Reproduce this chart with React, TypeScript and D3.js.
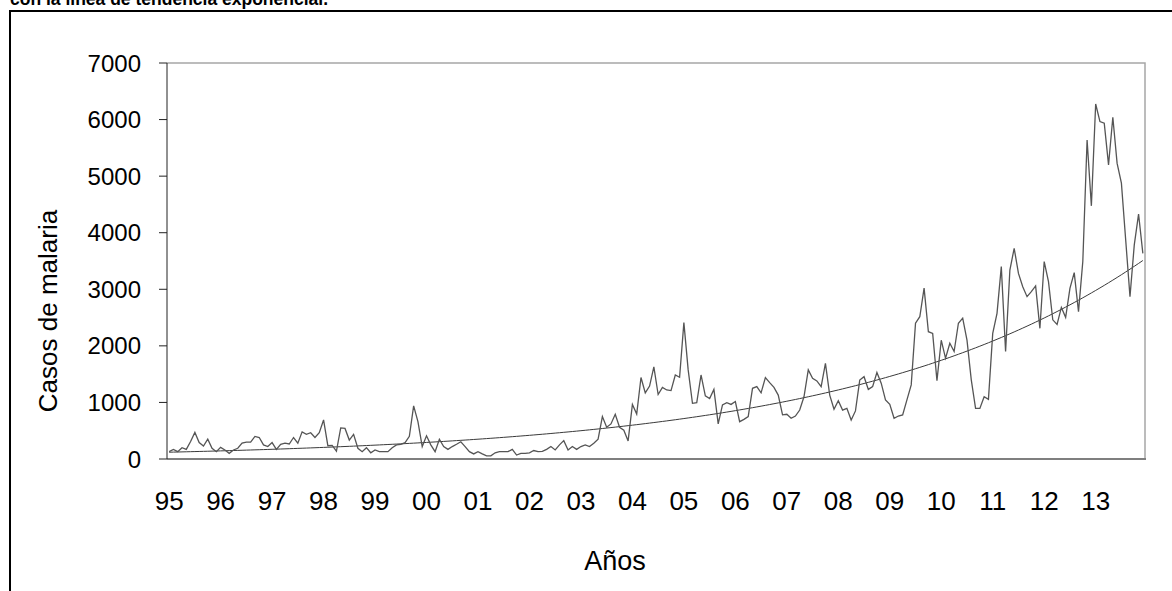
import React from "react"
import * as d3 from "d3"

// casos mensuales de malaria, ene-dic de cada año
const c1995 = [130, 170, 130, 200, 170, 310, 470, 290, 230, 350, 190, 130]
const c1996 = [205, 160, 100, 160, 190, 280, 300, 300, 400, 380, 250, 220]
const c1997 = [290, 170, 260, 280, 265, 380, 280, 480, 435, 465, 380, 465]
const c1998 = [690, 235, 240, 140, 550, 540, 335, 435, 190, 130, 200, 110]
const c1999 = [160, 130, 130, 130, 200, 250, 260, 290, 400, 940, 660, 220]
const c2000 = [410, 250, 130, 350, 220, 170, 220, 260, 305, 220, 130, 90]
const c2001 = [130, 90, 55, 55, 110, 130, 130, 130, 170, 70, 100, 100]
const c2002 = [110, 150, 130, 135, 170, 220, 160, 250, 325, 160, 220, 170]
const c2003 = [220, 250, 220, 280, 350, 750, 560, 620, 790, 560, 510, 320]
const c2004 = [965, 795, 1440, 1170, 1290, 1630, 1140, 1265, 1220, 1210, 1485, 1445]
const c2005 = [2410, 1575, 985, 995, 1485, 1115, 1070, 1230, 620, 955, 995, 965]
const c2006 = [1015, 660, 700, 750, 1250, 1280, 1170, 1440, 1350, 1265, 1130, 780]
const c2007 = [790, 720, 760, 865, 1100, 1575, 1425, 1380, 1280, 1690, 1130, 880]
const c2008 = [1030, 865, 895, 690, 850, 1395, 1455, 1230, 1280, 1530, 1340, 1045]
const c2009 = [965, 720, 760, 780, 1045, 1310, 2400, 2515, 3020, 2250, 2220, 1385]
const c2010 = [2100, 1780, 2045, 1900, 2400, 2490, 2100, 1400, 895, 895, 1100, 1055]
const c2011 = [2220, 2575, 3400, 1900, 3340, 3725, 3280, 3045, 2870, 2960, 3060, 2310]
const c2012 = [3490, 3135, 2460, 2380, 2680, 2505, 3015, 3295, 2605, 3490, 5640, 4475]
const c2013 = [6275, 5965, 5935, 5200, 6040, 5225, 4875, 3870, 2870, 3785, 4330, 3635]

const yearLabels = ["95", "96", "97", "98", "99", "00", "01", "02", "03", "04",
  "05", "06", "07", "08", "09", "10", "11", "12", "13"]
const yTicks = [0, 1000, 2000, 3000, 4000, 5000, 6000, 7000]

const casos = [c1995, c1996, c1997, c1998, c1999, c2000, c2001, c2002, c2003, c2004,
  c2005, c2006, c2007, c2008, c2009, c2010, c2011, c2012, c2013].flat()

const W = 1172
const H = 591
const PLOT = { left: 167, right: 1145, top: 63, bottom: 459 }
const FONT = "'Liberation Sans', Arial, sans-serif"

// tendencia exponencial (mínimos cuadrados sobre ln y), como en Excel
function expTrend(vals: number[]) {
  const xs = vals.map((_, i) => i + 1)
  const ls = vals.map(v => Math.log(v))
  const mx = d3.mean(xs)!
  const ml = d3.mean(ls)!
  const b = d3.sum(xs, (v, i) => (v - mx) * (ls[i] - ml)) / d3.sum(xs, v => (v - mx) ** 2)
  const a = Math.exp(ml - b * mx)
  return (i: number) => a * Math.exp(b * (i + 1))
}

export default function App() {
  const x = d3.scaleBand<number>()
    .domain(d3.range(casos.length))
    .range([PLOT.left, PLOT.right])
  const xc = (i: number) => x(i)! + x.bandwidth() / 2
  const y = d3.scaleLinear().domain([0, 7000]).range([PLOT.bottom, PLOT.top])

  const trend = expTrend(casos)
  const line = d3.line<number>().x((_, i) => xc(i)).y(d => y(d))
  const trendLine = d3.line<number>().x(i => xc(i)).y(i => y(trend(i)))

  return (
    <svg width={W} height={H} style={{ position: "absolute", left: 0, top: 0, background: "#fff" }}
      fontFamily={FONT}>
      <rect width={W} height={H} fill="#fff" />
      {/* título cortado por arriba, como en la imagen */}
      <text x={10} y={5} fontSize={17.5} fontWeight="bold">con la línea de tendencia exponencial.</text>
      <path d={`M10,${H} V11 H${W}`} fill="none" stroke="#000" strokeWidth={2} />

      {/* borde del área de trazado */}
      <path d={`M${PLOT.left},${PLOT.top} H${PLOT.right} V${PLOT.bottom}`} fill="none"
        stroke="#a6a6a6" strokeWidth={1.5} />
      <line x1={PLOT.left} x2={PLOT.right + 1} y1={PLOT.bottom} y2={PLOT.bottom}
        stroke="#7f7f7f" strokeWidth={2} />
      <line x1={PLOT.left} x2={PLOT.left} y1={PLOT.top} y2={PLOT.bottom} stroke="#222" strokeWidth={1} />

      {yTicks.map(t => (
        <g key={t}>
          <line x1={PLOT.left - 8} x2={PLOT.left} y1={y(t)} y2={y(t)} stroke="#222" />
          <text x={141} y={y(t)} dy="0.36em" textAnchor="end" fontSize={24}>{t}</text>
        </g>
      ))}

      {yearLabels.map((lab, k) => (
        <text key={lab} x={xc(k * 12)} y={510} textAnchor="middle" fontSize={26}>{lab}</text>
      ))}

      <path d={trendLine(d3.range(casos.length))!} fill="none" stroke="#3a3a3a" strokeWidth={1} />
      <path d={line(casos)!} fill="none" stroke="#555" strokeWidth={1.3} />

      <text transform={`translate(57,${311}) rotate(-90)`} textAnchor="middle" fontSize={26}>
        Casos de malaria
      </text>
      <text x={615} y={570} textAnchor="middle" fontSize={27}>Años</text>
    </svg>
  )
}
